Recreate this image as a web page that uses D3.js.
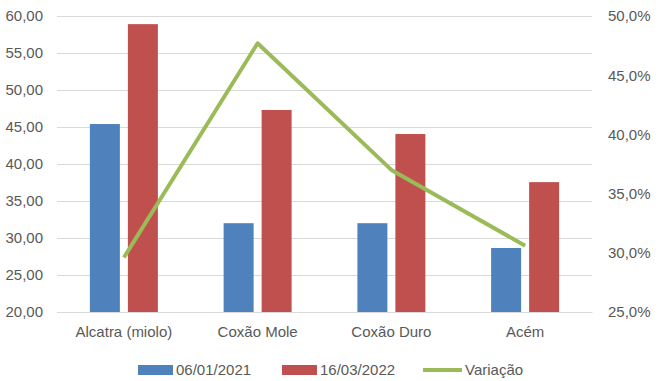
<!DOCTYPE html>
<html>
<head>
<meta charset="utf-8">
<script src="https://cdn.jsdelivr.net/npm/d3@7"></script>
<style>
  body { margin: 0; background: #fff; }
  svg text { font-family: "Liberation Sans", Arial, sans-serif; fill: #595959; }
</style>
</head>
<body>
<div id="chart"></div>
<script>
// data
var categories = ["Alcatra (miolo)", "Coxão Mole", "Coxão Duro", "Acém"];
var seriesNames = ["06/01/2021", "16/03/2022"];
var prices2021 = [45.4, 32.0, 32.0, 28.65];
var prices2022 = [58.9, 47.3, 44.05, 37.55];
var variacao = [0.296, 0.477, 0.370, 0.306];
var leftTicks = [20, 25, 30, 35, 40, 45, 50, 55, 60];
var rightTicks = [0.25, 0.30, 0.35, 0.40, 0.45, 0.50];

var colors = ["#4F81BD", "#C0504D"];
var lineColor = "#9BBB59";

var W = 660, H = 381;
var margin = { top: 16, right: 68, bottom: 69, left: 57 },
  width = W - margin.left - margin.right,
  height = H - margin.top - margin.bottom;

var svg = d3.select("#chart")
  .append("svg")
  .attr("width", W)
  .attr("height", H);

var g = svg.append("g")
  .attr("transform", "translate(" + margin.left + "," + margin.top + ")");

var x = d3.scaleBand()
  .domain(categories)
  .range([0, width]);

var y = d3.scaleLinear()
  .domain([20, 60])
  .range([height, 0]);

var y2 = d3.scaleLinear()
  .domain([0.25, 0.50])
  .range([height, 0]);

var fmtLeft = d => d.toFixed(2).replace(".", ",");
var fmtRight = d => (d * 100).toFixed(1).replace(".", ",") + "%";

// gridlines
g.append("g")
  .selectAll("line")
  .data(leftTicks)
  .enter()
  .append("line")
  .attr("x1", 0)
  .attr("x2", width)
  .attr("y1", d => Math.round(y(d)) + 0.5)
  .attr("y2", d => Math.round(y(d)) + 0.5)
  .style("stroke", "#D9D9D9")
  .style("stroke-width", 1);

// left axis
var yAxis = g.append("g")
  .call(d3.axisLeft(y).tickValues(leftTicks).tickFormat(fmtLeft).tickSize(0).tickPadding(14));
yAxis.select(".domain").remove();
yAxis.selectAll("text").style("font-size", "15px");

// right axis
var yAxis2 = g.append("g")
  .attr("transform", "translate(" + width + ",0)")
  .call(d3.axisRight(y2).tickValues(rightTicks).tickFormat(fmtRight).tickSize(0).tickPadding(16));
yAxis2.select(".domain").remove();
yAxis2.selectAll("text").style("font-size", "15px");

// bars
var barW = 30, barOff = 19;
var seriesData = [prices2021, prices2022];
seriesData.forEach(function (vals, s) {
  g.append("g")
    .selectAll("rect")
    .data(vals)
    .enter()
    .append("rect")
    .attr("x", (d, i) => x(categories[i]) + x.bandwidth() / 2 + (s === 0 ? -barOff : barOff) - barW / 2)
    .attr("y", d => y(d))
    .attr("width", barW)
    .attr("height", d => height - y(d))
    .style("fill", colors[s]);
});

// x axis
var xAxis = g.append("g")
  .attr("transform", "translate(0," + height + ")")
  .call(d3.axisBottom(x).tickSize(0).tickPadding(14));
xAxis.select(".domain").style("stroke", "#D9D9D9");
xAxis.selectAll("text").style("font-size", "15px");

// line
var line = d3.line()
  .x((d, i) => x(categories[i]) + x.bandwidth() / 2)
  .y(d => y2(d));

g.append("path")
  .datum(variacao)
  .attr("d", line)
  .style("fill", "none")
  .style("stroke", lineColor)
  .style("stroke-width", 4)
  .style("stroke-linejoin", "round");

// legend
var legend = svg.append("g").attr("transform", "translate(0,370)");
var legendItems = [
  { name: seriesNames[0], color: colors[0], type: "rect", x: 138 },
  { name: seriesNames[1], color: colors[1], type: "rect", x: 282 },
  { name: "Variação", color: lineColor, type: "line", x: 423 }
];
legendItems.forEach(function (it) {
  if (it.type === "rect") {
    legend.append("rect")
      .attr("x", it.x).attr("y", -5)
      .attr("width", 35).attr("height", 10)
      .style("fill", it.color);
  } else {
    legend.append("line")
      .attr("x1", it.x).attr("x2", it.x + 39)
      .attr("y1", 0).attr("y2", 0)
      .style("stroke", it.color)
      .style("stroke-width", 4);
  }
  legend.append("text")
    .attr("x", it.x + (it.type === "rect" ? 38 : 42))
    .attr("y", 0)
    .attr("dy", "0.35em")
    .style("font-size", "15px")
    .text(it.name);
});
</script>
</body>
</html>
